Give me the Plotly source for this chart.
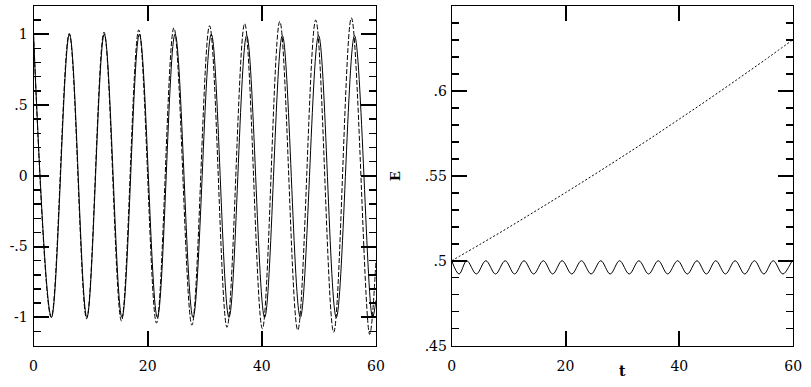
import plotly.graph_objects as go

# ---------------- data ----------------
# Left panel: two oscillating solutions (extrema)
t_solid = [0, 3.15, 6.3, 9.35, 12.4, 15.5, 18.55, 21.7, 24.8, 27.95, 31.15,
           34.25, 37.35, 40.5, 43.6, 46.75, 49.95, 53.05, 56.25, 59.4, 60]
x_solid = [1.0, -1.0, 1.0, -1.0, 1.0, -1.0, 1.0, -1.0, 1.0, -1.0, 1.0,
           -1.0, 0.99, -1.0, 0.99, -1.0, 0.99, -1.0, 0.99, -1.0, -0.88]

t_dashed = [0, 3.1, 6.25, 9.3, 12.35, 15.4, 18.45, 21.55, 24.6, 27.75, 30.85,
            33.9, 37.0, 40.1, 43.15, 46.3, 49.45, 52.6, 55.7, 58.9, 60]
x_dashed = [1.0, -1.0, 1.005, -1.01, 1.015, -1.025, 1.03, -1.04, 1.045, -1.055, 1.06,
            -1.07, 1.075, -1.08, 1.09, -1.09, 1.10, -1.105, 1.115, -1.12, -0.6]

# Right panel: energy E(t)
t_e_growth = [0, 5, 10, 15, 20, 25, 30, 35, 40, 45, 50, 55, 60]
e_growth = [0.5, 0.5097, 0.5196, 0.5298, 0.5401, 0.5506, 0.5613,
            0.5722, 0.5834, 0.5947, 0.6063, 0.6181, 0.6302]

t_e_osc = [0, 1.3, 2.65, 4.33, 6.0, 7.7, 9.4, 11.05, 12.7, 14.4, 16.1, 17.75,
           19.4, 21.1, 22.8, 24.5, 26.2, 27.85, 29.5, 31.2, 32.9, 34.6, 36.3,
           37.95, 39.7, 41.4, 43.1, 44.75, 46.4, 48.1, 49.8, 51.5, 53.2, 54.85,
           56.5, 58.2, 59.9, 60]
e_osc = [0.5, 0.4922, 0.5, 0.4922, 0.5, 0.4922, 0.5, 0.4922, 0.5, 0.4922, 0.5, 0.4922,
         0.5, 0.4922, 0.5, 0.4922, 0.5, 0.4922, 0.5, 0.4922, 0.5, 0.4922, 0.5,
         0.4922, 0.5, 0.4922, 0.5, 0.4922, 0.5, 0.4922, 0.5, 0.4922, 0.5, 0.4922,
         0.5, 0.4922, 0.5, 0.4999]

x_tickvals = [0, 20, 40, 60]
x_ticktext = ["0", "20", "40", "60"]
x_minor_tickvals = [5, 10, 15, 25, 30, 35, 45, 50, 55]
left_tickvals = [-1, -0.5, 0, 0.5, 1]
left_ticktext = ["-1", "-.5", "0", ".5", "1"]
right_tickvals = [0.45, 0.5, 0.55, 0.6, 0.65]
right_ticktext = [".45", ".5", ".55", ".6", ".65"]

# ---------------- figure ----------------
W, H = 811, 387
FONT = "DejaVu Serif"

fig = go.Figure()
fig.add_trace(go.Scatter(x=t_solid, y=x_solid, mode="lines",
                         line=dict(color="black", width=1, shape="spline", smoothing=1.0),
                         xaxis="x", yaxis="y", showlegend=False, hoverinfo="skip"))
fig.add_trace(go.Scatter(x=t_dashed, y=x_dashed, mode="lines",
                         line=dict(color="black", width=1, dash="5px,2px", shape="spline", smoothing=1.0),
                         xaxis="x", yaxis="y", showlegend=False, hoverinfo="skip"))
fig.add_trace(go.Scatter(x=t_e_growth, y=e_growth, mode="lines",
                         line=dict(color="black", width=1, dash="2px,2px", shape="spline"),
                         xaxis="x2", yaxis="y2", showlegend=False, hoverinfo="skip"))
fig.add_trace(go.Scatter(x=t_e_osc, y=e_osc, mode="lines",
                         line=dict(color="black", width=1, shape="spline", smoothing=1.0),
                         xaxis="x2", yaxis="y2", showlegend=False, hoverinfo="skip"))


def axis_cfg(dom, anchor, rng, tv, tt, standoff, minor_dt=None):
    d = dict(domain=dom, anchor=anchor, range=rng, tickmode="array",
             tickvals=tv, ticktext=tt, ticks="inside", ticklen=15,
             tickwidth=2, tickcolor="black", showline=True, linecolor="black",
             linewidth=1, mirror="ticks", showgrid=False, zeroline=False,
             ticklabelstandoff=standoff,
             tickfont=dict(family=FONT, size=14, color="black"))
    if minor_dt is not None:
        d["minor"] = dict(dtick=minor_dt, ticks="inside", ticklen=7, tickwidth=1.5,
                          tickcolor="black", showgrid=False)
    return d


def minor_x_cfg(dom, anchor, over):
    # overlaid axis carrying only the short 5-unit ticks of the t axis
    return dict(domain=dom, anchor=anchor, overlaying=over, range=[0, 60],
                tickmode="array", tickvals=x_minor_tickvals, ticks="inside",
                ticklen=7, tickwidth=2, tickcolor="black", showticklabels=False,
                showline=True, linecolor="black", linewidth=1, mirror="ticks",
                showgrid=False, zeroline=False)


ydom = [1 - 353 / H, 1 - 6 / H]
xdom1 = [30 / W, 378 / W]
xdom2 = [455 / W, 802 / W]

fig.update_layout(
    width=W, height=H, margin=dict(l=0, r=0, t=0, b=0),
    paper_bgcolor="white", plot_bgcolor="white",
    xaxis=axis_cfg(xdom1, "y", [0, 60], x_tickvals, x_ticktext, 7),
    yaxis=axis_cfg(ydom, "x", [-1.2, 1.2], left_tickvals, left_ticktext, 2, 0.1),
    xaxis2=axis_cfg(xdom2, "y2", [0, 60], x_tickvals, x_ticktext, 7),
    yaxis2=axis_cfg(ydom, "x2", [0.45, 0.65], right_tickvals, right_ticktext, 1, 0.01),
    xaxis3=minor_x_cfg(xdom1, "y", "x"),
    xaxis4=minor_x_cfg(xdom2, "y2", "x2"),
    annotations=[
        dict(text="<b>E</b>", x=398 / W, y=1 - 180 / H, xref="paper", yref="paper",
             xanchor="center", yanchor="middle",
             showarrow=False, textangle=-90, font=dict(family=FONT, size=13, color="black")),
        dict(text="<b>t</b>", x=629 / W, y=1 - 379 / H, xref="paper", yref="paper",
             xanchor="center", yanchor="middle",
             showarrow=False, font=dict(family=FONT, size=14, color="black")),
    ],
)

fig.write_html("out.html", config={"staticPlot": True})
